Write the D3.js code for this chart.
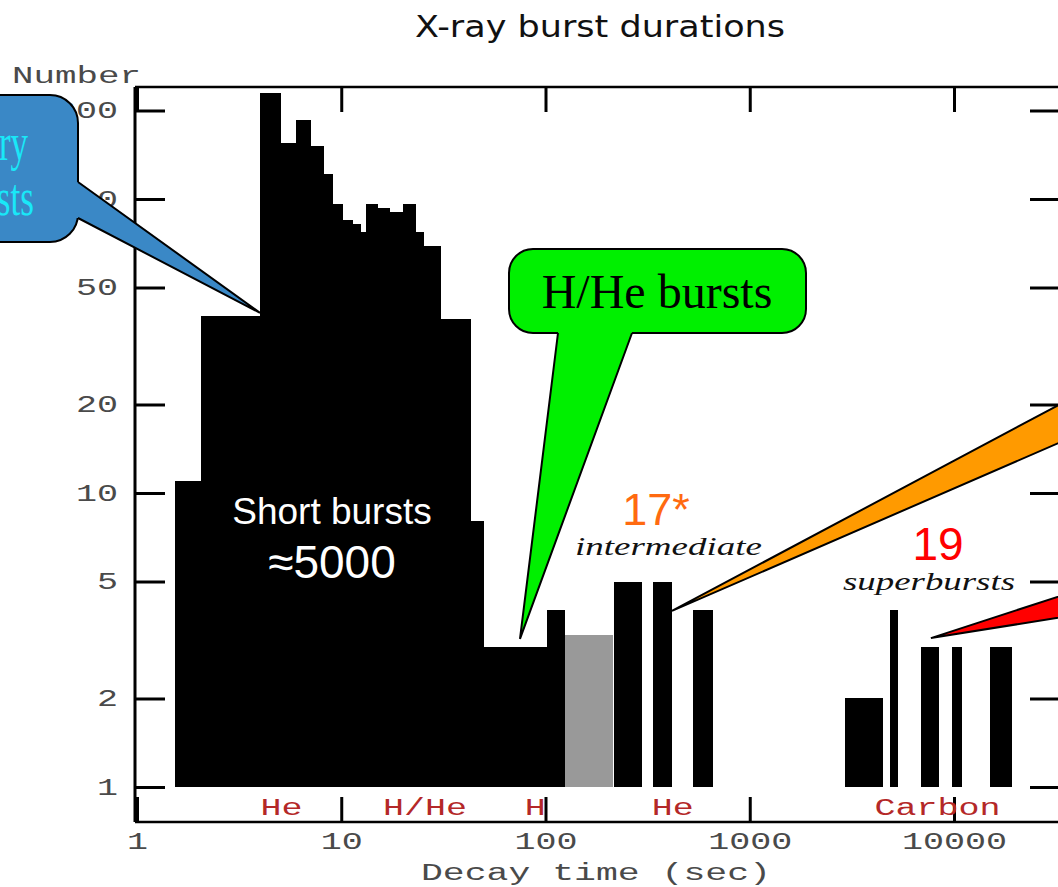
<!DOCTYPE html>
<html lang="en">
<head>
<meta charset="UTF-8">
<title>X-ray burst durations</title>
<script src="https://d3js.org/d3.v7.min.js"></script>
<style>
  body { margin: 0; background: #fff; }
  svg { display: block; }
  .mono { font-family: "Liberation Mono", "DejaVu Sans Mono", monospace; font-size: 23px; fill: #4a4a4a; }
  .tick line { stroke: #000; stroke-width: 3; }
</style>
</head>
<body>
<svg id="chart" width="1058" height="887"></svg>
<script>
// histogram bins: decay time range (sec) and number of bursts
const binStart = [1.535, 2.05, 4.0, 5.07, 6.0, 7.1, 8.2, 9.15, 10.2, 11.4,
                  12.5, 13.2, 15.2, 17.3, 20.1, 23.2, 25.4, 30.8, 43.0, 50.0,
                  102, 124.5, 216, 337, 526, 2925, 4860, 6870, 9810, 15000];
const binEnd   = [2.05, 4.0, 5.07, 6.0, 7.1, 8.2, 9.15, 10.2, 11.4, 12.5,
                  13.2, 15.2, 17.3, 20.1, 23.2, 25.4, 30.8, 43.0, 50.0, 102,
                  124.5, 215, 298, 418, 663, 4475, 5300, 8470, 10900, 19300];
const counts   = [11, 40, 229, 155, 185, 151, 122, 96, 85, 82,
                  77, 96, 93, 90, 96, 77, 69, 39, 8, 3,
                  4, 3.3, 5, 5, 4, 2, 4, 3, 3, 3];
// index 21 is the uncertain (grey) bin
const binKind  = counts.map((c, i) => i === 21 ? "uncertain" : "observed");

const xTicks = [1, 10, 100, 1000, 10000];
const yTicks = [1, 2, 5, 10, 20, 50, 100, 200];

const fuelLabels  = ["He", "H/He", "H", "He", "Carbon"];
const fuelCenters = [5.1, 25.7, 89, 420, 8300];

// annotation pointer tips (data coords)
const blueTip = [4.0, 41];
const greenTip = [75, 3.19];
const orangeTip = [416, 3.97];
const redTip = [7710, 3.21];

const svg = d3.select("#chart");

// frame
const fLeft = 135, fRight = 1060, fTop = 87, fBottom = 822;
const charW = 21; // wide courier-like advance

const x = d3.scaleLog().domain([1, 10000]).range([137, 954]);
const y = d3.scaleLog().domain([1, 100]).range([787, 199]);

// stretch monospaced text so it looks like the wide plot font
function stretch(sel, w) {
  sel.each(function () {
    const t = d3.select(this);
    const n = t.text().length;
    t.attr("textLength", w || n * charW).attr("lengthAdjust", "spacingAndGlyphs");
  });
}

// title
svg.append("text")
  .attr("x", 415).attr("y", 37)
  .attr("textLength", 370).attr("lengthAdjust", "spacingAndGlyphs")
  .style("font-family", "'DejaVu Sans', sans-serif")
  .style("font-size", "30px")
  .style("fill", "#111")
  .text("X-ray burst durations");

// frame lines
svg.append("line").attr("x1", fLeft).attr("x2", fLeft).attr("y1", fTop).attr("y2", fBottom)
  .attr("stroke", "#000").attr("stroke-width", 3);
svg.append("line").attr("x1", fLeft).attr("x2", fRight).attr("y1", fTop).attr("y2", fTop)
  .attr("stroke", "#000").attr("stroke-width", 2.5);
svg.append("line").attr("x1", fLeft).attr("x2", fRight).attr("y1", fBottom).attr("y2", fBottom)
  .attr("stroke", "#000").attr("stroke-width", 2.5);

// axes
const yLeft = svg.append("g")
  .attr("transform", `translate(${fLeft},0)`)
  .call(d3.axisLeft(y).tickValues(yTicks).tickFormat(d3.format("d"))
    .tickSizeInner(-30).tickSizeOuter(0).tickPadding(17));
yLeft.select(".domain").remove();

const yRight = svg.append("g")
  .attr("transform", `translate(${fRight},0)`)
  .call(d3.axisRight(y).tickValues(yTicks).tickFormat("")
    .tickSizeInner(-30).tickSizeOuter(0));
yRight.select(".domain").remove();

const xBottom = svg.append("g")
  .attr("transform", `translate(0,${fBottom})`)
  .call(d3.axisBottom(x).tickValues(xTicks).tickFormat(d3.format("d"))
    .tickSizeInner(-25).tickSizeOuter(0).tickPadding(11));
xBottom.select(".domain").remove();

const xTop = svg.append("g")
  .attr("transform", `translate(0,${fTop})`)
  .call(d3.axisTop(x).tickValues(xTicks).tickFormat("")
    .tickSizeInner(-25).tickSizeOuter(0));
xTop.select(".domain").remove();

svg.selectAll("g").attr("font-family", null).attr("font-size", null);
svg.selectAll(".tick text").attr("class", "mono").attr("fill", null);
stretch(svg.selectAll(".tick text"));

// axis titles
svg.append("text").attr("class", "mono")
  .attr("x", 12).attr("y", 83)
  .text("Number").call(stretch, 129);
svg.append("text").attr("class", "mono")
  .attr("x", 421).attr("y", 880)
  .text("Decay time (sec)").call(stretch, 350);

// fuel labels
svg.selectAll(".fuel")
  .data(fuelLabels)
  .enter().append("text")
  .attr("class", "mono fuel")
  .attr("x", (d, i) => x(fuelCenters[i]))
  .attr("y", 815)
  .attr("text-anchor", "middle")
  .style("fill", "#b42828")
  .text(d => d)
  .call(stretch);

// bars
svg.append("g").selectAll("rect")
  .data(counts)
  .enter().append("rect")
  .attr("x", (d, i) => x(binStart[i]))
  .attr("width", (d, i) => x(binEnd[i]) - x(binStart[i]))
  .attr("y", d => y(d))
  .attr("height", d => y(1) - y(d))
  .attr("shape-rendering", "crispEdges")
  .attr("fill", (d, i) => binKind[i] === "uncertain" ? "#999999" : "#000");

// speech bubble helper: rounded box + tail
function bubble(box, base1, base2, tip, fill) {
  const g = svg.append("g");
  g.append("rect")
    .attr("x", box[0]).attr("y", box[1]).attr("width", box[2]).attr("height", box[3])
    .attr("rx", box[4]).attr("fill", fill).attr("stroke", "#000").attr("stroke-width", 2);
  const inward = base1[2];
  g.append("polygon")
    .attr("points", [
      [base1[0] + inward[0], base1[1] + inward[1]], [base1[0], base1[1]], tip,
      [base2[0], base2[1]], [base2[0] + inward[0], base2[1] + inward[1]]
    ].map(p => p.join(",")).join(" "))
    .attr("fill", fill);
  g.append("polyline")
    .attr("points", [[base1[0], base1[1]], tip, [base2[0], base2[1]]].map(p => p.join(",")).join(" "))
    .attr("fill", "none").attr("stroke", "#000").attr("stroke-width", 2)
    .attr("stroke-linejoin", "miter");
  return g;
}

const blueXY = [x(blueTip[0]), y(blueTip[1])];
bubble([-120, 95, 198, 147, 28], [78, 182, [-8, 0]], [78, 218], blueXY, "#3a88c6");
svg.append("text").attr("x", 28).attr("y", 160).attr("text-anchor", "end")
  .attr("textLength", 126).attr("lengthAdjust", "spacingAndGlyphs")
  .style("font-family", "'Liberation Serif', serif").style("font-size", "52px")
  .style("fill", "#19e8f8").text("Ordinary");
svg.append("text").attr("x", 34).attr("y", 215).attr("text-anchor", "end")
  .attr("textLength", 84).attr("lengthAdjust", "spacingAndGlyphs")
  .style("font-family", "'Liberation Serif', serif").style("font-size", "52px")
  .style("fill", "#19e8f8").text("bursts");

const greenXY = [x(greenTip[0]), y(greenTip[1])];
bubble([509, 249, 297, 84, 24], [558, 333, [0, -8]], [632, 333], greenXY, "#00f000");
svg.append("text").attr("x", 657).attr("y", 308).attr("text-anchor", "middle")
  .style("font-family", "'Liberation Serif', serif").style("font-size", "48px")
  .style("fill", "#000").text("H/He bursts");

// wedges coming in from off-canvas callouts
const orangeXY = [x(orangeTip[0]), y(orangeTip[1])];
svg.append("polygon")
  .attr("points", [orangeXY, [1100, 383], [1100, 425]].map(p => p.join(",")).join(" "))
  .attr("fill", "#ff9a00").attr("stroke", "#000").attr("stroke-width", 2);

const redXY = [x(redTip[0]), y(redTip[1])];
svg.append("polygon")
  .attr("points", [redXY, [1100, 583], [1100, 611]].map(p => p.join(",")).join(" "))
  .attr("fill", "#ff0000").attr("stroke", "#000").attr("stroke-width", 2);

// in-plot text
svg.append("text").attr("x", 332).attr("y", 524).attr("text-anchor", "middle")
  .style("font-family", "'Liberation Sans', Arial, sans-serif").style("font-size", "37px")
  .style("fill", "#fff").text("Short bursts");
svg.append("text").attr("x", 332).attr("y", 578).attr("text-anchor", "middle")
  .style("font-family", "'Liberation Sans', Arial, sans-serif").style("font-size", "46px")
  .style("fill", "#fff").text("≈5000");

svg.append("text").attr("x", 656).attr("y", 525).attr("text-anchor", "middle")
  .style("font-family", "'Liberation Sans', Arial, sans-serif").style("font-size", "45px")
  .style("fill", "#ff6a10").text("17*");
svg.append("text").attr("x", 575).attr("y", 555)
  .attr("textLength", 187).attr("lengthAdjust", "spacingAndGlyphs")
  .style("font-family", "'Liberation Serif', serif").style("font-style", "italic")
  .style("font-size", "26px").style("fill", "#111").text("intermediate");

svg.append("text").attr("x", 938).attr("y", 560).attr("text-anchor", "middle")
  .style("font-family", "'Liberation Sans', Arial, sans-serif").style("font-size", "46px")
  .style("fill", "#ff0000").text("19");
svg.append("text").attr("x", 843).attr("y", 590)
  .attr("textLength", 172).attr("lengthAdjust", "spacingAndGlyphs")
  .style("font-family", "'Liberation Serif', serif").style("font-style", "italic")
  .style("font-size", "26px").style("fill", "#111").text("superbursts");
</script>
</body>
</html>
